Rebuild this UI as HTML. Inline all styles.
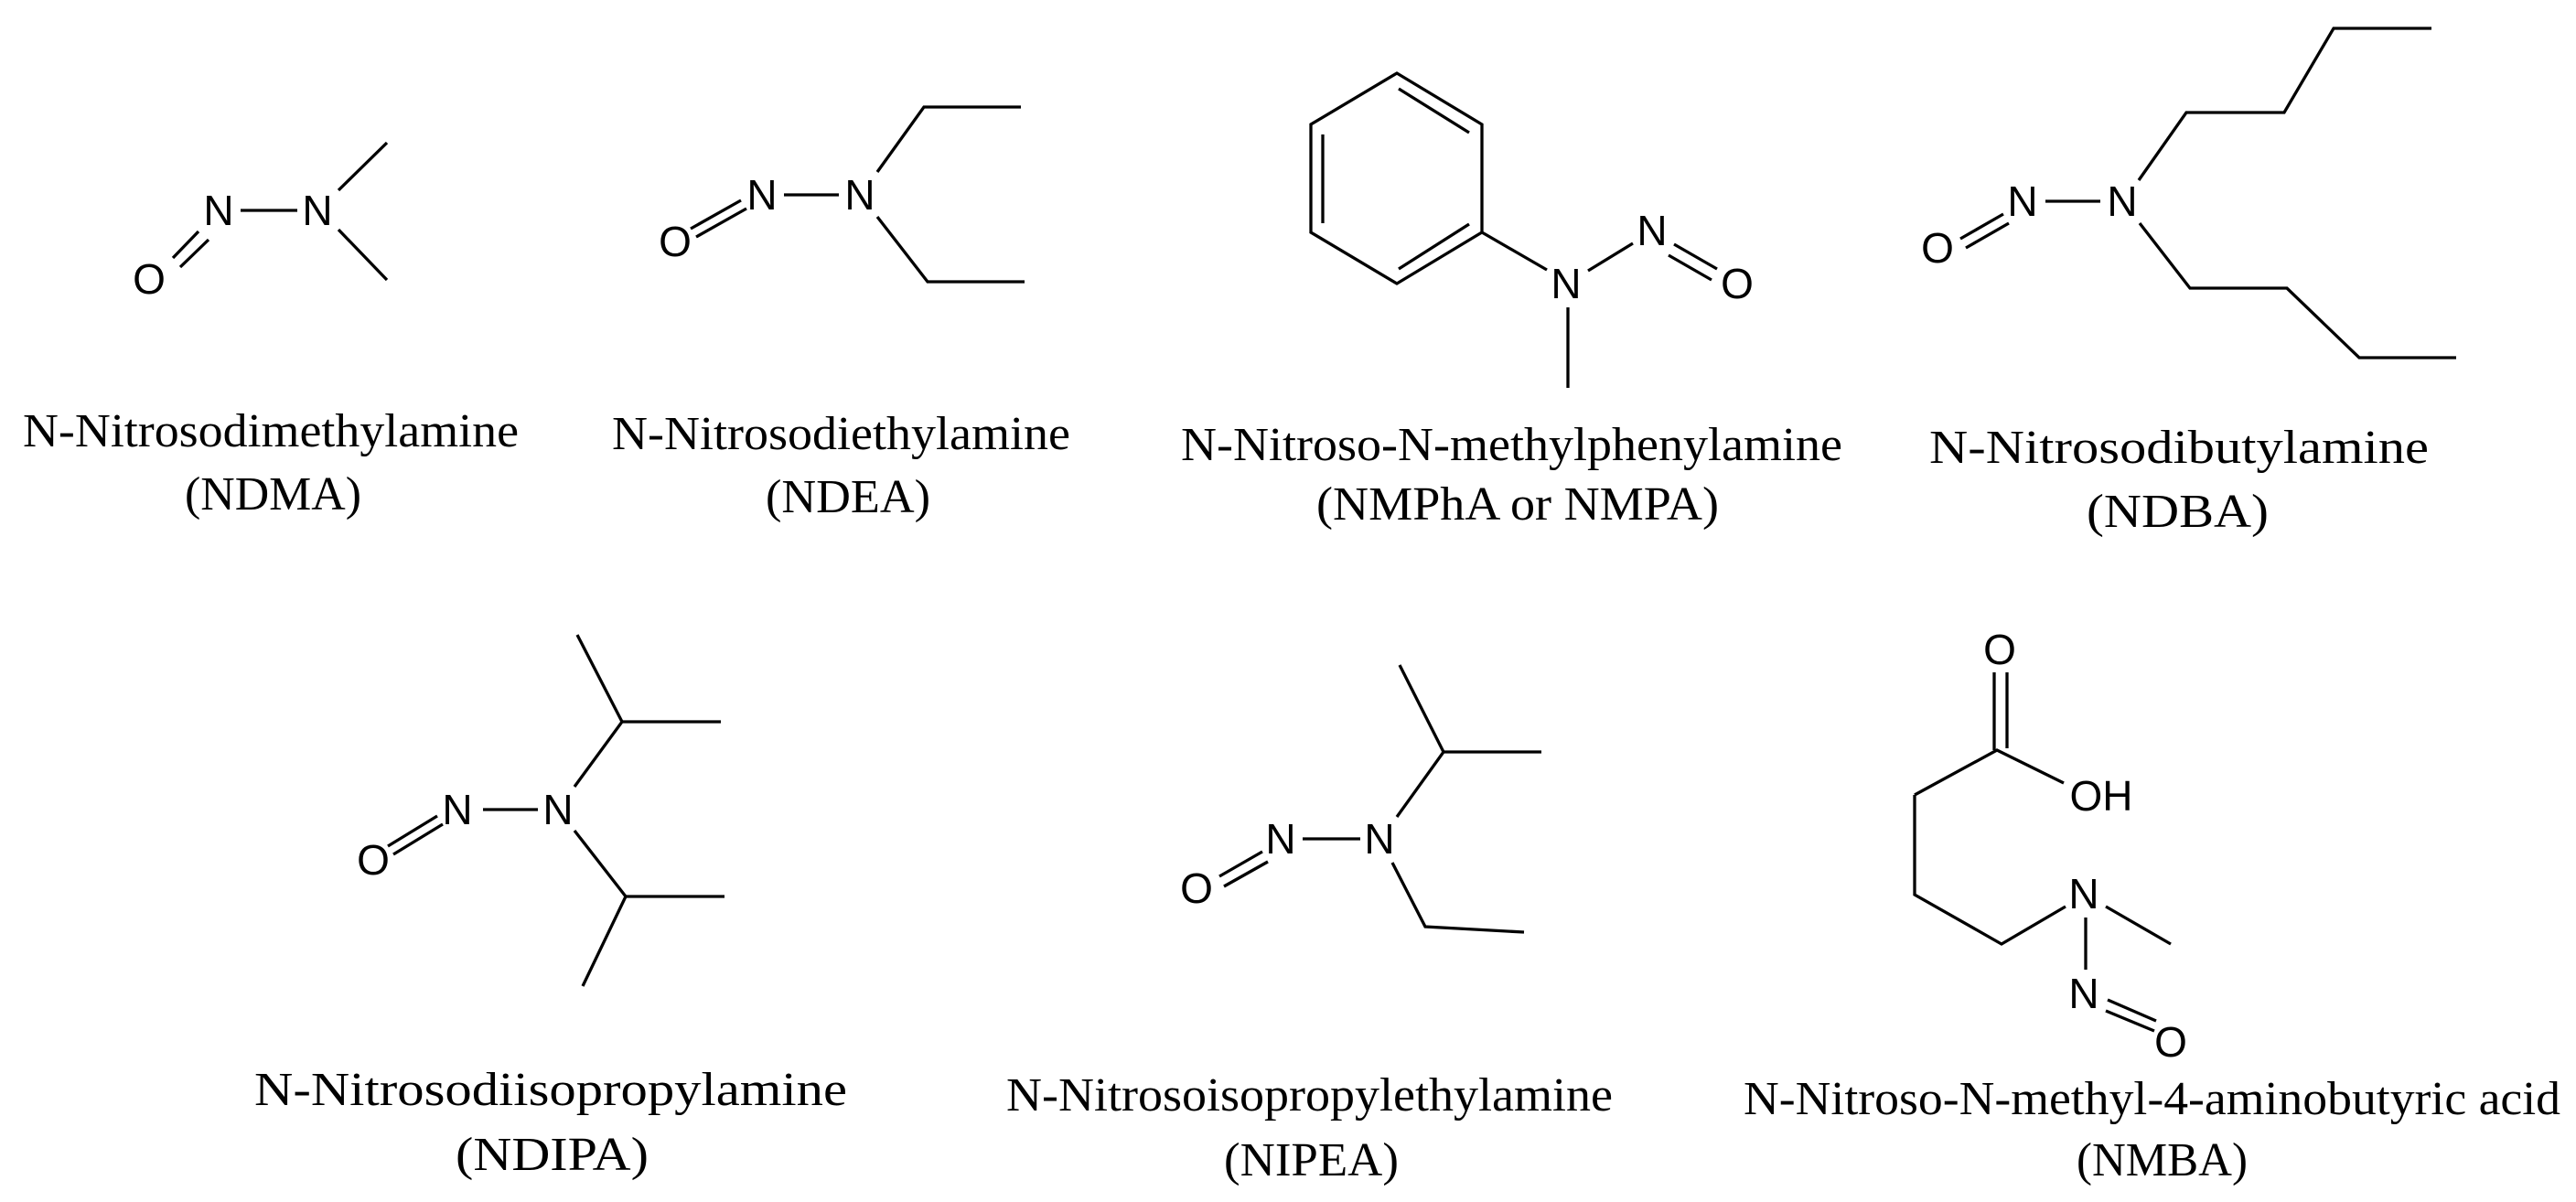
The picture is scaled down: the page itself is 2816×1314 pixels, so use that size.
<!DOCTYPE html>
<html><head><meta charset="utf-8"><style>
html,body{margin:0;padding:0;background:#fff;}
svg{display:block;}
.b{stroke:#000;stroke-width:3.3;fill:none;stroke-linecap:butt;stroke-linejoin:miter;}
.a{font-family:"Liberation Sans",Arial,sans-serif;font-size:46px;fill:#000;text-anchor:middle;}
.t{font-family:"Liberation Serif","Times New Roman",serif;font-size:52px;fill:#000;}
</style></head><body>
<svg width="2816" height="1314" viewBox="0 0 2816 1314" xmlns="http://www.w3.org/2000/svg">
<rect width="2816" height="1314" fill="#fff"/>

<!-- NDMA -->
<g class="b">
<line x1="263" y1="230" x2="325" y2="230"/>
<line x1="370" y1="208" x2="423" y2="156"/>
<line x1="370" y1="251" x2="423" y2="306"/>
<line x1="189" y1="282" x2="217" y2="253"/>
<line x1="197" y1="292" x2="228" y2="262"/>
</g>
<text class="a" x="239" y="246">N</text>
<text class="a" x="347" y="246">N</text>
<text class="a" x="163" y="321">O</text>
<text class="t" x="25" y="488" textLength="542" lengthAdjust="spacingAndGlyphs">N-Nitrosodimethylamine</text>
<text class="t" x="202" y="557" textLength="193" lengthAdjust="spacingAndGlyphs">(NDMA)</text>

<!-- NDEA -->
<g class="b">
<line x1="857" y1="213" x2="917" y2="213"/>
<polyline points="959,188 1010,117 1116,117"/>
<polyline points="959,237 1014,308 1120,308"/>
<line x1="755" y1="250" x2="810" y2="219"/>
<line x1="761" y1="259" x2="816" y2="228"/>
</g>
<text class="a" x="833" y="229">N</text>
<text class="a" x="940" y="229">N</text>
<text class="a" x="738" y="280">O</text>
<text class="t" x="669" y="491" textLength="501" lengthAdjust="spacingAndGlyphs">N-Nitrosodiethylamine</text>
<text class="t" x="837" y="560" textLength="180" lengthAdjust="spacingAndGlyphs">(NDEA)</text>

<!-- NMPA -->
<g class="b">
<polygon points="1527,80 1620,136 1620,254 1527,310 1433,254 1433,136"/>
<line x1="1529" y1="97" x2="1606" y2="145"/>
<line x1="1446" y1="147" x2="1446" y2="244"/>
<line x1="1529" y1="294" x2="1606" y2="245"/>
<line x1="1620" y1="254" x2="1691" y2="295"/>
<line x1="1714" y1="336" x2="1714" y2="424"/>
<line x1="1736" y1="296" x2="1785" y2="266"/>
<line x1="1830" y1="267" x2="1877" y2="294"/>
<line x1="1824" y1="279" x2="1871" y2="306"/>
</g>
<text class="a" x="1712" y="326">N</text>
<text class="a" x="1806" y="268">N</text>
<text class="a" x="1899" y="326">O</text>
<text class="t" x="1291" y="503" textLength="723" lengthAdjust="spacingAndGlyphs">N-Nitroso-N-methylphenylamine</text>
<text class="t" x="1439" y="568" textLength="440" lengthAdjust="spacingAndGlyphs">(NMPhA or NMPA)</text>

<!-- NDBA -->
<g class="b">
<line x1="2236" y1="220" x2="2296" y2="220"/>
<polyline points="2338,197 2390,123 2497,123 2551,31 2658,31"/>
<polyline points="2339,244 2394,315 2500,315 2579,391 2685,391"/>
<line x1="2143" y1="261" x2="2190" y2="234"/>
<line x1="2149" y1="271" x2="2196" y2="244"/>
</g>
<text class="a" x="2211" y="236">N</text>
<text class="a" x="2320" y="236">N</text>
<text class="a" x="2118" y="287">O</text>
<text class="t" x="2109" y="506" textLength="546" lengthAdjust="spacingAndGlyphs">N-Nitrosodibutylamine</text>
<text class="t" x="2281" y="576" textLength="199" lengthAdjust="spacingAndGlyphs">(NDBA)</text>

<!-- NDIPA -->
<g class="b">
<line x1="528" y1="885" x2="588" y2="885"/>
<polyline points="628,860 680,789 788,789"/>
<line x1="680" y1="789" x2="631" y2="694"/>
<polyline points="628,908 684,980 792,980"/>
<line x1="684" y1="980" x2="637" y2="1078"/>
<line x1="424" y1="925" x2="478" y2="892"/>
<line x1="430" y1="934" x2="484" y2="901"/>
</g>
<text class="a" x="500" y="901">N</text>
<text class="a" x="610" y="901">N</text>
<text class="a" x="408" y="956">O</text>
<text class="t" x="278" y="1208" textLength="648" lengthAdjust="spacingAndGlyphs">N-Nitrosodiisopropylamine</text>
<text class="t" x="498" y="1279" textLength="211" lengthAdjust="spacingAndGlyphs">(NDIPA)</text>

<!-- NIPEA -->
<g class="b">
<line x1="1424" y1="917" x2="1487" y2="917"/>
<polyline points="1527,893 1578,822 1685,822"/>
<line x1="1578" y1="822" x2="1530" y2="727"/>
<polyline points="1522,943 1558,1013 1666,1019"/>
<line x1="1333" y1="958" x2="1380" y2="931"/>
<line x1="1338" y1="969" x2="1386" y2="942"/>
</g>
<text class="a" x="1400" y="933">N</text>
<text class="a" x="1508" y="933">N</text>
<text class="a" x="1308" y="987">O</text>
<text class="t" x="1100" y="1214" textLength="663" lengthAdjust="spacingAndGlyphs">N-Nitrosoisopropylethylamine</text>
<text class="t" x="1338" y="1285" textLength="191" lengthAdjust="spacingAndGlyphs">(NIPEA)</text>

<!-- NMBA -->
<g class="b">
<line x1="2180" y1="735" x2="2180" y2="820"/>
<line x1="2194" y1="735" x2="2194" y2="818"/>
<polyline points="2093,869 2183,820 2256,856"/>
<polyline points="2093,869 2093,978 2188,1032 2258,991"/>
<line x1="2302" y1="991" x2="2373" y2="1032"/>
<line x1="2280" y1="1003" x2="2280" y2="1060"/>
<line x1="2304" y1="1093" x2="2357" y2="1116"/>
<line x1="2302" y1="1105" x2="2355" y2="1127"/>
</g>
<text class="a" x="2186" y="726">O</text>
<text class="a" x="2297" y="886">OH</text>
<text class="a" x="2278" y="993">N</text>
<text class="a" x="2278" y="1102">N</text>
<text class="a" x="2373" y="1155">O</text>
<text class="t" x="1906" y="1218" textLength="893" lengthAdjust="spacingAndGlyphs">N-Nitroso-N-methyl-4-aminobutyric acid</text>
<text class="t" x="2270" y="1285" textLength="187" lengthAdjust="spacingAndGlyphs">(NMBA)</text>
</svg>
</body></html>
